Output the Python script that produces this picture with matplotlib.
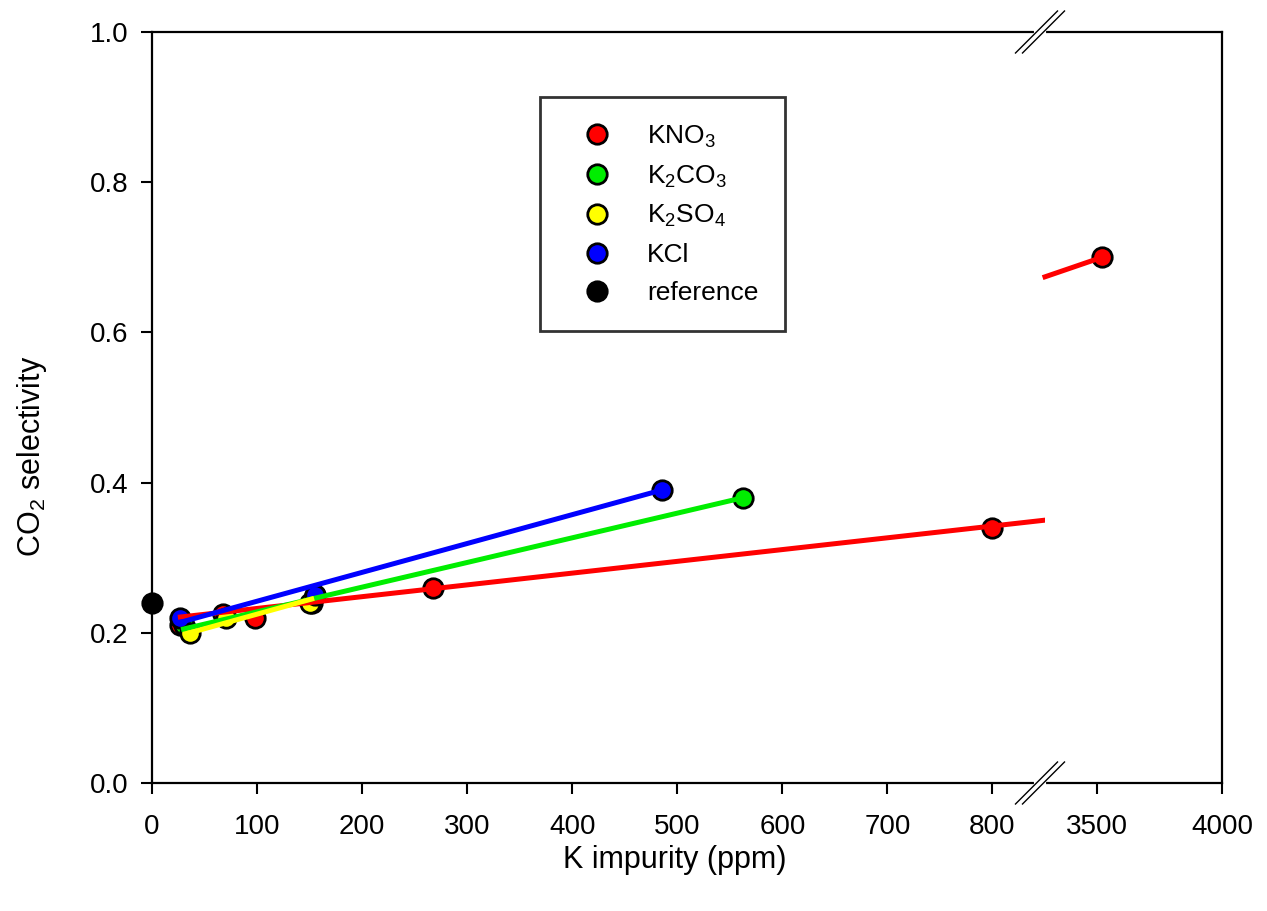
import matplotlib
matplotlib.use("Agg")
import matplotlib.pyplot as plt
from matplotlib.lines import Line2D

plt.rcParams['font.family'] = ['Liberation Sans', 'DejaVu Sans']
plt.rcParams['mathtext.fontset'] = 'custom'
plt.rcParams['mathtext.rm'] = 'Liberation Sans'
plt.rcParams['mathtext.it'] = 'Liberation Sans:italic'

# ---- data ----
kno3_x = [27, 68, 98, 152, 267, 800, 3520]
kno3_y = [0.21, 0.225, 0.22, 0.24, 0.26, 0.34, 0.70]
k2co3_x = [30, 155, 563]
k2co3_y = [0.21, 0.25, 0.38]
k2so4_x = [36, 70, 150]
k2so4_y = [0.20, 0.22, 0.24]
kcl_x = [27, 155, 485]
kcl_y = [0.22, 0.25, 0.39]
ref_x = [0]
ref_y = [0.24]

# fit line endpoints
kno3_fit_left_x = [27, 850]
kno3_fit_left_y = [0.221, 0.350]
kno3_fit_right_x = [3292, 3520]
kno3_fit_right_y = [0.674, 0.700]
k2co3_fit_x = [30, 563]
k2co3_fit_y = [0.205, 0.380]
k2so4_fit_x = [36, 152]
k2so4_fit_y = [0.200, 0.245]
kcl_fit_x = [27, 485]
kcl_fit_y = [0.214, 0.390]

labels = ['KNO$_\\mathregular{3}$', 'K$_\\mathregular{2}$CO$_\\mathregular{3}$',
          'K$_\\mathregular{2}$SO$_\\mathregular{4}$', 'KCl', 'reference']
colors = ['#FF0000', '#00EE00', '#FFFF00', '#0000FF', '#000000']

left_ticks = [0, 100, 200, 300, 400, 500, 600, 700, 800]
right_ticks = [3500, 4000]
y_ticks = [0.0, 0.2, 0.4, 0.6, 0.8, 1.0]

W, H = 1267, 911
fig = plt.figure(figsize=(W / 100, H / 100), dpi=100)
xl, xb, xr, xt = 152, 1045, 1222, 32
yb = 783
ax1 = fig.add_axes([xl / W, 1 - yb / H, (xb - xl) / W, (yb - xt) / H])
ax2 = fig.add_axes([xb / W, 1 - yb / H, (xr - xb) / W, (yb - xt) / H])

ax1.set_xlim(0, 850)
ax2.set_xlim(3292, 4000)
for ax in (ax1, ax2):
    ax.set_ylim(0, 1.0)
    for s in ax.spines.values():
        s.set_linewidth(1.6)
    ax.tick_params(direction='out', length=8, width=1.5, labelsize=20)
ax1.spines['right'].set_visible(False)
ax2.spines['left'].set_visible(False)
ax1.set_xticks(left_ticks)
ax2.set_xticks(right_ticks)
ax1.set_yticks(y_ticks)
ax1.set_yticklabels([f"{v:.1f}" for v in y_ticks])
ax1.tick_params(axis='y', pad=9)
ax2.set_yticks([])
ax1.tick_params(axis='x', pad=14)
ax2.tick_params(axis='x', pad=14)

mk = dict(marker='o', ms=14, mec='black', mew=2.0, ls='none', zorder=2)
lw = 3.6
ax1.plot(kno3_x, kno3_y, mfc=colors[0], **mk)
ax2.plot(kno3_x, kno3_y, mfc=colors[0], **mk)
ax1.plot(k2co3_x, k2co3_y, mfc=colors[1], **mk)
ax1.plot(k2so4_x, k2so4_y, mfc=colors[2], **mk)
ax1.plot(kcl_x, kcl_y, mfc=colors[3], **mk)
ax1.plot(ref_x, ref_y, mfc=colors[4], clip_on=False, **mk)

ax1.plot(kno3_fit_left_x, kno3_fit_left_y, color=colors[0], lw=lw, zorder=3)
ax2.plot(kno3_fit_right_x, kno3_fit_right_y, color=colors[0], lw=lw, zorder=3, clip_on=False)
ax1.plot(k2co3_fit_x, k2co3_fit_y, color=colors[1], lw=lw, zorder=3)
ax1.plot(k2so4_fit_x, k2so4_fit_y, color=colors[2], lw=lw, zorder=3)
ax1.plot(kcl_fit_x, kcl_fit_y, color=colors[3], lw=lw, zorder=3)

fig.text(32 / W, 1 - 456 / H, 'CO$_\\mathregular{2}$ selectivity', fontsize=22,
         rotation=90, ha='center', va='center')
fig.text(675 / W, 1 - 860 / H, 'K impurity (ppm)', fontsize=22, ha='center', va='center')

# legend
handles = [Line2D([], [], marker='o', ms=14, mec='black', mew=2.0, mfc=c, ls='none') for c in colors]
leg = fig.legend(handles, labels, loc='upper left', bbox_to_anchor=(540 / W, 1 - 97 / H),
                 fontsize=19, frameon=True, fancybox=False, edgecolor='black',
                 borderpad=1.0, labelspacing=0.52, handletextpad=0.75, borderaxespad=0,
                 handlelength=2.3)
leg.get_frame().set_linewidth(2.0)

# break marks
for yy in (xt, yb):
    x0 = 1040
    for dx in (-3.5, 3.5):
        fig.add_artist(Line2D([(x0 + dx - 21) / W, (x0 + dx + 21) / W],
                              [1 - (yy + 21) / H, 1 - (yy - 21) / H],
                              color='black', lw=1.0, transform=fig.transFigure, zorder=10))
    fig.add_artist(Line2D([(x0 - 4) / W, (x0 + 4) / W], [1 - yy / H, 1 - yy / H],
                          color='white', lw=3, transform=fig.transFigure, zorder=9))

fig.savefig('out.png', dpi=100)
